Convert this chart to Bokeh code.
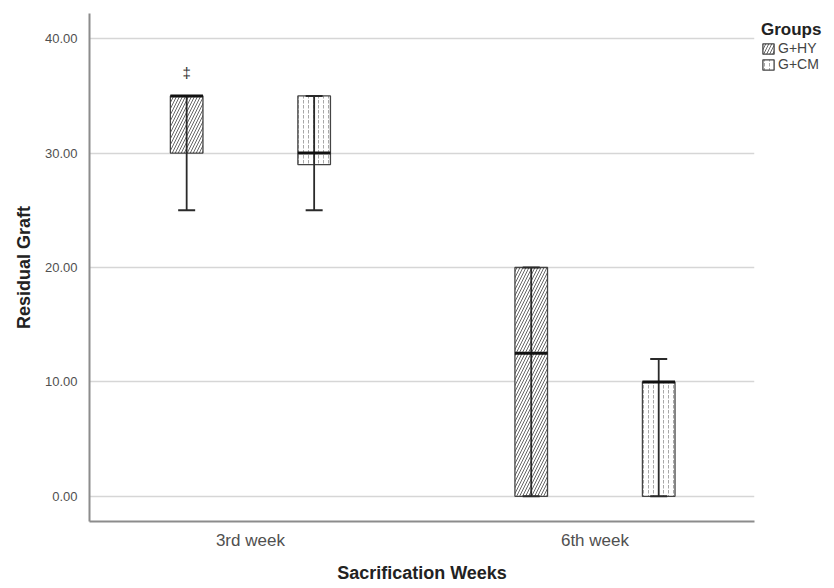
from bokeh.plotting import figure
from bokeh.models import (ColumnDataSource, FixedTicker, PrintfTickFormatter, Legend,
                          LegendItem, Range1d)
from bokeh.core.properties import value
from bokeh.embed import file_html
from bokeh.resources import INLINE

# ---- data ----
weeks = ["3rd week", "6th week"]
groups = ["G+HY", "G+CM"]

hy_low = [25, 0]
hy_q1 = [30, 0]
hy_median = [35, 12.5]
hy_q3 = [35, 20]
hy_high = [35, 20]

cm_low = [25, 0]
cm_q1 = [29, 0]
cm_median = [30, 10]
cm_q3 = [35, 10]
cm_high = [35, 12]

marker_week = 0          # index into weeks, group G+HY
marker_value = 37
marker_text = "‡"

y_ticks = [0, 10, 20, 30, 40]

# ---- layout constants ----
OFFSET = 0.185
BOX_W = 0.0946
FONT = "Liberation Sans"

p = figure(frame_width=665, frame_height=508, output_backend="svg", toolbar_location=None,
           x_range=Range1d(-0.467, 1.463), y_range=Range1d(-2.2, 42.2),
           min_border_left=89, min_border_right=0, min_border_top=13, min_border_bottom=0)
p.outline_line_color = None
p.background_fill_color = "white"
p.border_fill_color = "white"
p.xgrid.grid_line_color = None
p.ygrid.grid_line_color = "#d6d6d6"
p.ygrid.grid_line_width = 1.6
p.ygrid.ticker = FixedTicker(ticks=y_ticks)

def make_source(low, q1, med, q3, high, sign):
    xs = [i + sign * OFFSET for i in range(len(weeks))]
    return ColumnDataSource(dict(
        x=xs, low=low, q1=q1, med=med, q3=q3, high=high,
        xl=[x - BOX_W / 2 for x in xs], xr=[x + BOX_W / 2 for x in xs]))

src_hy = make_source(hy_low, hy_q1, hy_median, hy_q3, hy_high, -1)
src_cm = make_source(cm_low, cm_q1, cm_median, cm_q3, cm_high, +1)

box_hy = p.vbar(x="x", width=BOX_W, bottom="q1", top="q3", source=src_hy,
                fill_color="white", line_color="#444444", line_width=1.3,
                hatch_pattern="/", hatch_color="#666666", hatch_scale=6, hatch_weight=1)
box_cm = p.vbar(x="x", width=BOX_W, bottom="q1", top="q3", source=src_cm,
                fill_color="white", line_color="#444444", line_width=1.3,
                hatch_pattern=":", hatch_color="#a8a8a8", hatch_scale=5, hatch_weight=1)

for src in (src_hy, src_cm):
    p.segment(x0="x", y0="low", x1="x", y1="high", source=src,
              line_color="#2a2a2a", line_width=1.8)
    p.scatter(x="x", y="low", source=src, marker="dash", size=17,
              line_color="#2a2a2a", line_width=2)
    p.scatter(x="x", y="high", source=src, marker="dash", size=17,
              line_color="#2a2a2a", line_width=2)
    p.segment(x0="xl", y0="med", x1="xr", y1="med", source=src,
              line_color="#111111", line_width=3)

p.text(x=[marker_week - OFFSET], y=[marker_value], text=[marker_text],
       text_align="center", text_baseline="middle", text_font=value(FONT),
       text_font_size="15px", text_color="#333333")

# axes
p.xaxis.ticker = FixedTicker(ticks=list(range(len(weeks))))
p.xaxis.major_label_overrides = {i: w for i, w in enumerate(weeks)}
p.yaxis.ticker = FixedTicker(ticks=y_ticks)
p.yaxis.formatter = PrintfTickFormatter(format="%.2f")
for ax in (p.xaxis, p.yaxis):
    ax.axis_line_color = "#8c8c8c"
    ax.axis_line_width = 2
    ax.major_tick_line_color = None
    ax.minor_tick_line_color = None
    ax.major_label_text_font = FONT
    ax.major_label_text_color = "#505050"
    ax.axis_label_text_font = FONT
    ax.axis_label_text_font_style = "bold"
    ax.axis_label_text_font_size = "18px"
    ax.axis_label_text_color = "#222222"
p.xaxis.major_label_text_font_size = "17px"
p.yaxis.major_label_text_font_size = "13px"
p.xaxis.axis_label = "Sacrification Weeks"
p.yaxis.axis_label = "Residual Graft"
p.xaxis.major_label_standoff = 3
p.xaxis.axis_label_standoff = 10
p.yaxis.major_label_standoff = 6
p.yaxis.axis_label_standoff = 8

legend = Legend(items=[LegendItem(label=groups[0], renderers=[box_hy]),
                       LegendItem(label=groups[1], renderers=[box_cm])],
                title="Groups", location="top_left")
legend.title_text_font = FONT
legend.title_text_font_style = "bold"
legend.title_text_font_size = "17px"
legend.title_text_color = "#222222"
legend.title_standoff = 0
legend.label_text_font = FONT
legend.label_text_font_size = "14px"
legend.label_text_color = "#444444"
legend.glyph_width = 14
legend.glyph_height = 13
legend.label_height = 13
legend.label_standoff = 3
legend.spacing = 0
legend.padding = 0
legend.margin = 7
legend.border_line_color = None
legend.background_fill_alpha = 0
p.add_layout(legend, "right")

open("out.html", "w").write(file_html(p, INLINE))
